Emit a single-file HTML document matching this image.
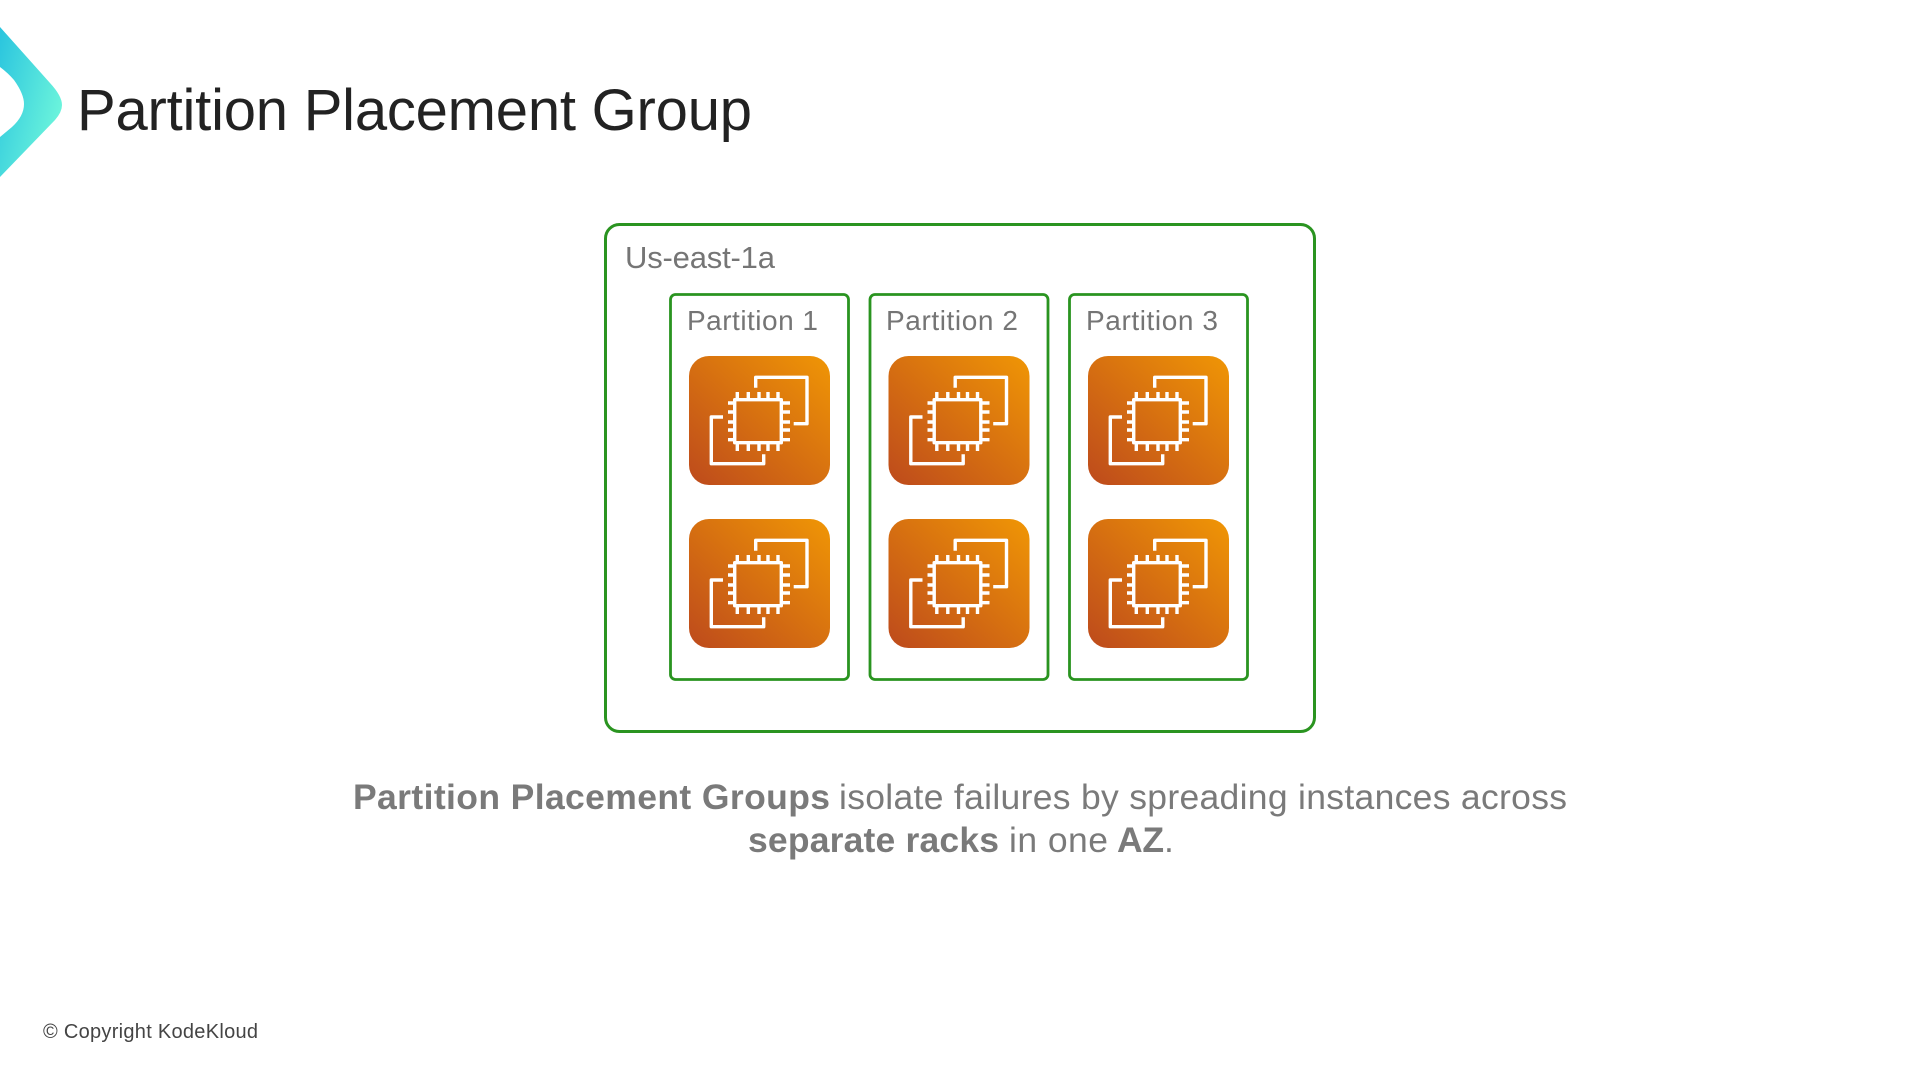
<!DOCTYPE html>
<html lang="en">
<head>
<meta charset="utf-8">
<title>Partition Placement Group</title>
<style>
html,body{margin:0;padding:0;background:#fff;width:1920px;height:1080px;overflow:hidden}
svg{display:block}
text{font-family:"Liberation Sans",Arial,sans-serif}
</style>
</head>
<body>
<svg width="1920" height="1080" viewBox="0 0 1920 1080" xmlns="http://www.w3.org/2000/svg">
<defs>
<linearGradient id="logo" gradientUnits="userSpaceOnUse" x1="0" y1="40" x2="73" y2="58">
<stop offset="0" stop-color="#2cc6de"/>
<stop offset="1" stop-color="#6af3dc"/>
</linearGradient>
<linearGradient id="ec2" x1="0" y1="1" x2="1" y2="0">
<stop offset="0" stop-color="#bd4a1c"/>
<stop offset="1" stop-color="#f09605"/>
</linearGradient>
<g id="icon">
<rect x="0" y="0" width="141" height="129" rx="20" ry="20" fill="url(#ec2)"/>
<g fill="none" stroke="#fff" stroke-width="3.4" stroke-linejoin="round">
<path d="M66.7 31.7V21.3H118V67.7H104.7"/>
<path d="M34 61H22.3V107.7H74.7V98.3"/>
<rect x="45.7" y="43.7" width="46.6" height="43"/>
<path d="M48.3 36V43.7M59.3 36V43.7M70 36V43.7M79 36V43.7M89 36V43.7"/>
<path d="M48.3 86.7V95M59.3 86.7V95M70 86.7V95M79 86.7V95M89 86.7V95"/>
<path d="M39 47H45.7M39 56H45.7M39 66H45.7M39 74H45.7M39 83.7H45.7"/>
<path d="M92.3 47H101M92.3 56H101M92.3 66H101M92.3 74H101M92.3 83.7H101"/>
</g>
</g>
</defs>

<path d="M0 27 L50 83 Q62 96 62 105 Q62 112 55 120 L0 177 V137 L12 127 Q24 116 24 104 Q24 94 14 80 Q8 73 0 67 Z" fill="url(#logo)"/>

<text x="77" y="130" font-size="58" fill="#222222" textLength="675" lengthAdjust="spacing">Partition Placement Group</text>

<rect x="605.5" y="224.5" width="709" height="507" rx="14" ry="14" fill="none" stroke="#2a9420" stroke-width="3"/>
<text x="625" y="268" font-size="31" fill="#757575" textLength="150" lengthAdjust="spacing">Us-east-1a</text>

<rect x="670.5" y="294.5" width="178" height="385" rx="5" ry="5" fill="none" stroke="#2a9420" stroke-width="2.800"/>
<rect x="870" y="294.5" width="178" height="385" rx="5" ry="5" fill="none" stroke="#2a9420" stroke-width="2.800"/>
<rect x="1069.500" y="294.5" width="178" height="385" rx="5" ry="5" fill="none" stroke="#2a9420" stroke-width="2.800"/>

<text x="687" y="330" font-size="28" fill="#757575" textLength="131" lengthAdjust="spacing">Partition 1</text>
<text x="886" y="330" font-size="28" fill="#757575" textLength="132" lengthAdjust="spacing">Partition 2</text>
<text x="1086" y="330" font-size="28" fill="#757575" textLength="132" lengthAdjust="spacing">Partition 3</text>

<use href="#icon" x="689" y="356"/>
<use href="#icon" x="888.500" y="356"/>
<use href="#icon" x="1088" y="356"/>
<use href="#icon" x="689" y="519"/>
<use href="#icon" x="888.500" y="519"/>
<use href="#icon" x="1088" y="519"/>

<text x="353" y="809" font-size="35.500" font-weight="700" fill="#7a7a7a" textLength="477" lengthAdjust="spacing">Partition Placement Groups</text>
<text x="839" y="809" font-size="35.500" fill="#7a7a7a" textLength="728" lengthAdjust="spacing">isolate failures by spreading instances across</text>
<text x="748" y="852" font-size="35.500" font-weight="700" fill="#7a7a7a" textLength="251" lengthAdjust="spacing">separate racks</text>
<text x="1009" y="852" font-size="35.500" fill="#7a7a7a" textLength="99" lengthAdjust="spacing">in one</text>
<text x="1117" y="852" font-size="35.500" font-weight="700" fill="#7a7a7a" textLength="47" lengthAdjust="spacing">AZ</text>
<text x="1164" y="852" font-size="35.500" fill="#7a7a7a">.</text>

<text x="43" y="1038" font-size="20" fill="#444444" textLength="215" lengthAdjust="spacing">© Copyright KodeKloud</text>
</svg>
</body>
</html>
